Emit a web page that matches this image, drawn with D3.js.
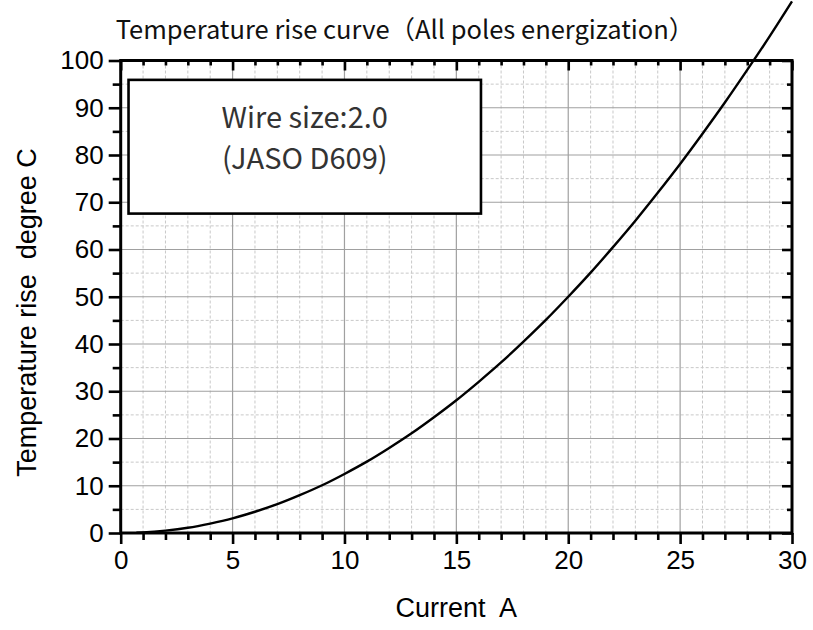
<!DOCTYPE html>
<html><head><meta charset="utf-8">
<script src="https://cdn.jsdelivr.net/npm/d3@7"></script>
<style>
html,body{margin:0;padding:0;background:#fff;}
svg{display:block;}
text{white-space:pre;}
</style></head>
<body>
<svg id="chart" width="813" height="630"></svg>
<script>
// ---- data ----
const chartTitle = "Temperature rise curve（All poles energization）";
const xTitle = "Current  A";
const yTitle = "Temperature rise  degree C";
const noteLines = ["Wire size:2.0", "(JASO D609)"];
const current  = [0.7, 1, 2, 3, 4, 5, 6, 7, 8, 9, 10, 11, 12, 13, 14, 15, 16, 17, 18, 19, 20, 21, 22, 23, 24, 25, 26, 27, 28, 29, 30];
const tempRise = [0.05, 0.12, 0.5, 1.1, 2.0, 3.1, 4.5, 6.1, 8.0, 10.1, 12.5, 15.1, 18.0, 21.1, 24.5, 28.1, 32.0, 36.1, 40.5, 45.1, 50.0, 55.1, 60.5, 66.1, 72.0, 78.1, 84.5, 91.1, 98.0, 105.1, 112.5];
const xMajorTicks = [0, 5, 10, 15, 20, 25, 30];
const xMinorTicks = d3.range(0, 31, 1);
const yMajorTicks = [0, 10, 20, 30, 40, 50, 60, 70, 80, 90, 100];
const yMinorTicks = d3.range(0, 101, 5);

// ---- layout ----
const L = 120.7, R = 792, T = 60.5, B = 533;
const svg = d3.select("#chart");
const x = d3.scaleLinear().domain([0, 30]).range([L, R]);
const y = d3.scaleLinear().domain([0, 100]).range([B, T]);

const labelFont = "'Liberation Sans', Arial, sans-serif";
const jpFont = "'Noto Sans CJK JP', 'Noto Sans', sans-serif";

// grid: minor dashed
const g = svg.append("g");
g.selectAll(".vminor").data(xMinorTicks.filter(d => d % 5 !== 0)).join("line")
  .attr("x1", d => x(d)).attr("x2", d => x(d)).attr("y1", T).attr("y2", B)
  .attr("stroke", "#c8c8c8").attr("stroke-width", 1).attr("stroke-dasharray", "3,2");
g.selectAll(".hminor").data(yMinorTicks.filter(d => d % 10 !== 0)).join("line")
  .attr("y1", d => y(d)).attr("y2", d => y(d)).attr("x1", L).attr("x2", R)
  .attr("stroke", "#c8c8c8").attr("stroke-width", 1).attr("stroke-dasharray", "3,2");
// grid: major solid
g.selectAll(".vmajor").data(xMajorTicks.slice(1, -1)).join("line")
  .attr("x1", d => x(d)).attr("x2", d => x(d)).attr("y1", T).attr("y2", B)
  .attr("stroke", "#a0a0a0").attr("stroke-width", 1.2);
g.selectAll(".hmajor").data(yMajorTicks.slice(1, -1)).join("line")
  .attr("y1", d => y(d)).attr("y2", d => y(d)).attr("x1", L).attr("x2", R)
  .attr("stroke", "#a0a0a0").attr("stroke-width", 1.2);

function styleAxis(sel) {
  sel.select(".domain").remove();
  sel.selectAll(".tick line").attr("stroke", "#000").attr("stroke-width", 2.6);
}
// bottom: outside ticks with labels
const bottomMajor = d3.axisBottom(x).tickValues(xMajorTicks).tickSize(11).tickPadding(7).tickFormat(d3.format("d"));
svg.append("g").attr("transform", `translate(0,${B})`).call(bottomMajor).call(styleAxis)
  .selectAll("text").attr("font-family", labelFont).attr("font-size", 26).attr("fill", "#000");
svg.append("g").attr("transform", `translate(0,${B})`)
  .call(d3.axisBottom(x).tickValues(xMinorTicks.filter(d => d % 5 !== 0)).tickSize(7).tickFormat(""))
  .call(styleAxis);
// left: outside ticks with labels
const leftMajor = d3.axisLeft(y).tickValues(yMajorTicks).tickSize(12).tickPadding(5).tickFormat(d3.format("d"));
svg.append("g").attr("transform", `translate(${L},0)`).call(leftMajor).call(styleAxis)
  .selectAll("text").attr("font-family", labelFont).attr("font-size", 26).attr("fill", "#000");
svg.append("g").attr("transform", `translate(${L},0)`)
  .call(d3.axisLeft(y).tickValues(yMinorTicks.filter(d => d % 10 !== 0)).tickSize(8).tickFormat(""))
  .call(styleAxis);
// top: inside ticks
svg.append("g").attr("transform", `translate(0,${T})`)
  .call(d3.axisBottom(x).tickValues(xMajorTicks).tickSize(10).tickFormat("")).call(styleAxis);
svg.append("g").attr("transform", `translate(0,${T})`)
  .call(d3.axisBottom(x).tickValues(xMinorTicks.filter(d => d % 5 !== 0)).tickSize(5).tickFormat("")).call(styleAxis);
// right: inside ticks
svg.append("g").attr("transform", `translate(${R},0)`)
  .call(d3.axisLeft(y).tickValues(yMajorTicks).tickSize(10).tickFormat("")).call(styleAxis);
svg.append("g").attr("transform", `translate(${R},0)`)
  .call(d3.axisLeft(y).tickValues(yMinorTicks.filter(d => d % 10 !== 0)).tickSize(5).tickFormat("")).call(styleAxis);

// frame
svg.append("rect").attr("x", L).attr("y", T).attr("width", R - L).attr("height", B - T)
  .attr("fill", "none").attr("stroke", "#000").attr("stroke-width", 3);

// note box
const box = { x0: 0.35, x1: 16.1, y0: 95.9, y1: 67.6 };
svg.append("rect").attr("x", x(box.x0)).attr("y", y(box.y0))
  .attr("width", x(box.x1) - x(box.x0)).attr("height", y(box.y1) - y(box.y0))
  .attr("fill", "#fff").attr("stroke", "#000").attr("stroke-width", 2.6);
svg.selectAll(".note").data(noteLines).join("text")
  .attr("x", (x(box.x0) + x(box.x1)) / 2).attr("y", (d, i) => 128 + i * 41)
  .attr("text-anchor", "middle").attr("font-family", jpFont).attr("font-size", 29)
  .attr("fill", "#333").text(d => d);

// curve (not clipped)
const line = d3.line().x((d, i) => x(current[i])).y(d => y(d)).curve(d3.curveMonotoneX);
svg.append("path").datum(tempRise).attr("d", line)
  .attr("fill", "none").attr("stroke", "#000").attr("stroke-width", 2.4);

// titles
svg.append("text").attr("x", 405).attr("y", 39).attr("text-anchor", "middle")
  .attr("font-family", jpFont).attr("font-size", 25.5).attr("fill", "#111").text(chartTitle);
svg.append("text").attr("x", (L + R) / 2).attr("y", 617).attr("text-anchor", "middle")
  .attr("font-family", labelFont).attr("font-size", 27).attr("fill", "#000").text(xTitle);
svg.append("text").attr("transform", `translate(36,${(143 + 482) / 2}) rotate(-90)`)
  .attr("text-anchor", "middle").attr("font-family", labelFont).attr("font-size", 27)
  .attr("fill", "#000").text(yTitle);
</script>
</body></html>
